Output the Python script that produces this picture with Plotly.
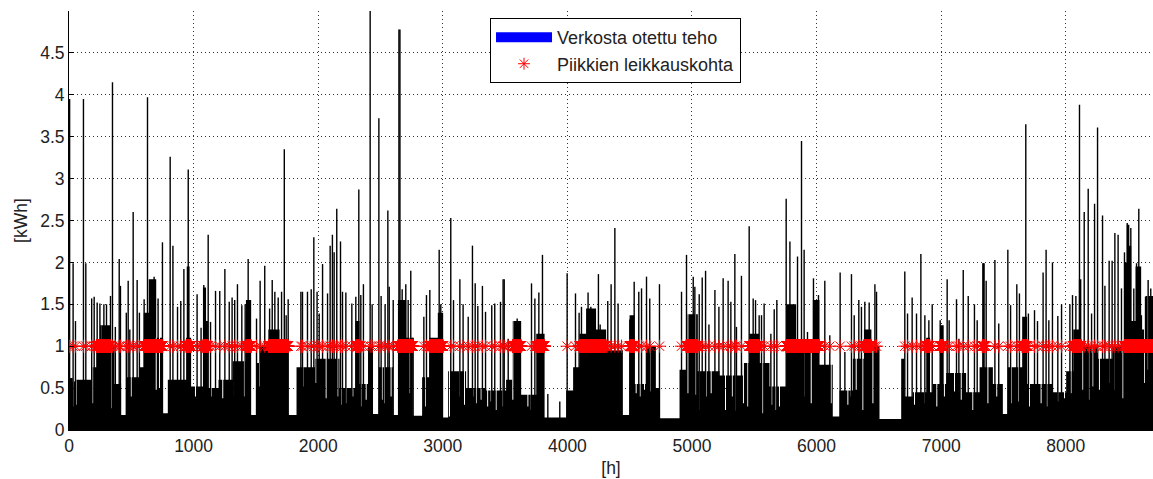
import numpy as np
import plotly.graph_objects as go

# Hourly grid draw over one year (h); the base load is stored as step segments
YEAR_END = 8760
CUT_LEVEL = 1.0  # peak cut limit, kWh

# Base load: each segment starts at seg_start and holds seg_kwh until the next start
seg_start = [0, 30, 60, 180, 220, 260, 330, 365, 418, 459, 566, 600, 640, 700, 753, 793,
             940, 945, 968, 980, 1075, 1100, 1115, 1200, 1315, 1420, 1462, 1502, 1530, 1600,
             1690, 1760, 1826, 1973, 2171, 2300, 2332, 2400, 2440, 2486, 2600, 2640, 2706,
             2760, 2834, 2893, 2960, 3003, 3043, 3187, 3348, 3508, 3560, 3629, 3750, 3817,
             3990, 4046, 4097, 4150, 4230, 4311, 4445, 4499, 4538, 4630, 4710, 4740, 4900,
             4953, 5047, 5221, 5408, 5460, 5540, 5622, 5756, 5836, 5970, 6023, 6130, 6184,
             6291, 6380, 6440, 6505, 6679, 6706, 6773, 6880, 6910, 6933, 6990, 7020, 7040,
             7200, 7308, 7330, 7350, 7415, 7495, 7535, 7650, 7690, 7896, 8003, 8060, 8105,
             8125, 8260, 8378, 8470, 8490, 8510, 8525, 8560, 8605, 8640]
seg_kwh = [0.62, 0.58, 0.60, 0.75, 1.05, 1.25, 1.00, 0.55, 0.18, 0.63, 0.75, 1.40, 1.80, 1.10,
           0.20, 0.60, 1.10, 1.95, 1.10, 0.52, 1.70, 1.30, 0.50, 0.60, 0.82, 1.55, 0.18, 0.80,
           1.00, 1.20, 1.05, 0.18, 0.75, 0.85, 0.50, 1.30, 0.55, 1.00, 0.19, 0.75, 0.18, 1.55,
           1.10, 0.17, 0.63, 1.10, 1.40, 0.15, 0.70, 0.50, 0.47, 0.60, 1.30, 0.42, 1.15, 0.15,
           0.47, 0.75, 1.15, 1.45, 1.20, 0.95, 0.18, 1.37, 0.55, 1.00, 0.50, 0.14, 0.72, 1.38,
           0.70, 0.65, 0.80, 1.15, 0.80, 0.52, 1.50, 1.05, 1.55, 0.78, 0.16, 0.47, 0.85, 1.20,
           1.00, 0.13, 0.85, 0.40, 0.45, 1.10, 0.45, 0.55, 1.25, 0.55, 0.68, 0.45, 0.75, 1.99,
           0.75, 0.55, 0.19, 0.75, 1.35, 0.55, 0.45, 0.70, 1.20, 1.80, 1.00, 0.85, 1.00, 2.00,
           2.45, 2.20, 1.30, 1.95, 1.20, 1.60]

# Single low hours inside the base load
dip_hour = [36, 57, 191, 338, 499, 700, 726, 1015, 1141, 1234, 1328, 1408, 1529, 1877, 1983,
            2064, 2157, 2184, 2224, 2278, 2345, 2385, 2513, 2532, 2585, 2738, 2861, 3054, 3134,
            3174, 3241, 3268, 3308, 3360, 3388, 3428, 3482, 3562, 3683, 3710, 4552, 4584, 4619,
            4664, 4967, 5029, 5060, 5114, 5154, 5269, 5323, 5354, 5413, 5448, 5568, 5640, 5675,
            5702, 5903, 5957, 6117, 6251, 6278, 6318, 6371, 6452, 6786, 6866, 6965, 7026, 7107,
            7161, 7254, 7375, 7446, 7562, 7623, 7709, 7749, 7802, 7848, 7936, 7990, 8043, 8137,
            8185, 8217, 8270, 8351, 8391, 8458, 8632, 8659]
dip_kwh = [0.28, 0.30, 0.32, 0.26, 0.40, 0.48, 0.50, 0.40, 0.40, 0.38, 0.40, 0.40, 0.52, 0.52,
           0.56, 0.38, 0.40, 0.30, 0.32, 0.40, 0.28, 0.36, 0.36, 0.32, 0.40, 0.44, 0.28, 0.16,
           0.40, 0.30, 0.40, 0.32, 0.36, 0.28, 0.34, 0.24, 0.28, 0.36, 0.28, 0.24, 0.44, 0.40,
           0.48, 0.46, 0.44, 0.42, 0.24, 0.40, 0.44, 0.24, 0.40, 0.23, 0.32, 0.28, 0.20, 0.30,
           0.24, 0.28, 0.40, 0.32, 0.32, 0.30, 0.40, 0.48, 0.24, 0.32, 0.30, 0.32, 0.28, 0.40,
           0.46, 0.36, 0.24, 0.32, 0.40, 0.32, 0.34, 0.28, 0.40, 0.32, 0.28, 0.34, 0.38, 0.44,
           0.48, 0.36, 0.52, 0.48, 0.56, 0.48, 0.38, 0.56, 0.72]

# Single-hour consumption peaks
peak_hour = [5, 33, 52, 116, 135, 182, 202, 226, 248, 255, 280, 301, 333, 349, 372, 403, 413,
             460, 475, 488, 515, 547, 565, 603, 630, 683, 715, 750, 812, 834, 871, 897, 922,
             957, 1028, 1060, 1082, 1117, 1136, 1176, 1210, 1251, 1286, 1309, 1330, 1352, 1387,
             1414, 1438, 1505, 1534, 1571, 1610, 1631, 1652, 1679, 1706, 1728, 1743, 1759,
             1861, 1874, 1914, 1944, 1965, 1991, 2008, 2035, 2075, 2096, 2114, 2128, 2149, 2179,
             2195, 2222, 2270, 2302, 2326, 2342, 2363, 2417, 2433, 2487, 2505, 2537, 2559, 2570,
             2602, 2648, 2656, 2674, 2703, 2722, 2743, 2762, 2848, 2869, 2896, 2971, 2984, 3064,
             3086, 3137, 3163, 3204, 3238, 3260, 3281, 3318, 3343, 3393, 3417, 3463, 3484, 3493,
             3525, 3597, 3712, 3739, 3771, 3800, 3843, 3939, 3998, 4065, 4094, 4113, 4166, 4188,
             4209, 4249, 4263, 4287, 4324, 4351, 4381, 4407, 4434, 4501, 4536, 4573, 4595, 4635,
             4661, 4696, 4739, 4916, 4956, 5010, 5023, 5058, 5082, 5109, 5136, 5184, 5216, 5250,
             5290, 5312, 5344, 5357, 5397, 5459, 5491, 5510, 5539, 5558, 5579, 5633, 5660, 5681,
             5756, 5786, 5807, 5847, 5879, 5900, 5927, 5975, 6015, 6066, 6106, 6189, 6227, 6280,
             6302, 6339, 6360, 6387, 6422, 6468, 6481, 6708, 6730, 6767, 6802, 6837, 6869, 6901,
             6928, 6992, 7048, 7064, 7123, 7142, 7177, 7217, 7267, 7289, 7337, 7361, 7431, 7462,
             7535, 7557, 7607, 7628, 7679, 7700, 7749, 7773, 7818, 7842, 7864, 7893, 7936, 7966,
             8033, 8054, 8081, 8110, 8148, 8180, 8207, 8231, 8255, 8295, 8314, 8348, 8372, 8394,
             8420, 8447, 8471, 8493, 8522, 8546, 8568, 8586, 8607, 8640, 8661, 8682]
peak_kwh = [3.95, 1.99, 1.30, 3.95, 1.99, 1.57, 1.59, 1.52, 1.51, 1.25, 1.50, 1.50, 1.60, 4.15,
            1.23, 2.04, 1.72, 1.40, 1.78, 1.20, 2.60, 1.79, 1.40, 1.56, 3.97, 1.83, 1.57, 2.24,
            3.26, 2.20, 1.47, 1.54, 1.92, 3.11, 1.62, 1.22, 1.73, 2.33, 1.29, 1.66, 1.66, 1.92,
            1.53, 1.58, 1.55, 1.74, 1.49, 1.50, 2.04, 1.33, 1.78, 1.96, 1.45, 1.79, 1.65, 1.58,
            1.65, 3.35, 1.37, 1.56, 1.65, 1.65, 1.65, 1.68, 2.30, 1.65, 1.39, 1.98, 1.63, 2.20,
            2.33, 2.12, 2.64, 2.25, 1.65, 1.64, 1.51, 1.59, 2.87, 1.61, 1.74, 5.00, 1.50, 3.72,
            1.60, 1.50, 2.62, 1.71, 1.55, 4.78, 4.78, 1.68, 1.74, 1.55, 1.90, 1.10, 1.35, 1.61,
            1.67, 2.15, 1.50, 2.53, 1.55, 1.80, 1.50, 1.35, 2.20, 1.75, 1.48, 1.72, 1.41, 1.49,
            1.51, 1.53, 1.80, 1.80, 1.09, 1.33, 1.75, 1.57, 1.64, 2.09, 0.43, 0.34, 1.87, 1.63,
            1.40, 1.47, 1.64, 1.47, 1.09, 1.86, 1.26, 1.17, 1.54, 1.74, 2.41, 1.51, 1.02, 1.32,
            1.77, 1.65, 1.69, 1.83, 1.57, 0.93, 1.74, 1.65, 2.09, 1.83, 1.71, 1.62, 1.82, 1.90,
            1.26, 1.67, 1.47, 1.81, 1.78, 1.53, 2.10, 1.23, 1.84, 2.43, 1.57, 1.55, 1.37, 1.37,
            1.51, 1.15, 1.44, 1.55, 2.76, 2.25, 1.35, 2.07, 3.45, 2.15, 1.17, 1.81, 1.61, 1.78,
            1.13, 1.88, 0.93, 1.86, 1.37, 1.55, 1.47, 1.53, 1.52, 1.74, 1.65, 1.89, 1.39, 1.58,
            1.39, 2.10, 1.37, 1.31, 1.50, 1.31, 1.80, 1.31, 1.56, 1.09, 1.91, 1.60, 1.50, 1.31,
            1.99, 1.78, 2.03, 1.27, 2.15, 1.49, 1.74, 1.63, 3.65, 1.39, 1.43, 1.30, 1.88, 2.15,
            1.31, 2.00, 1.36, 1.50, 1.50, 1.61, 1.60, 3.88, 2.60, 2.88, 1.39, 2.70, 3.61, 2.56,
            1.72, 2.02, 2.02, 2.35, 2.33, 1.69, 2.12, 2.47, 2.41, 1.69, 1.99, 2.64, 1.37, 1.59,
            1.79, 1.69]

x_ticks = [0, 1000, 2000, 3000, 4000, 5000, 6000, 7000, 8000]
y_ticks = [0, 0.5, 1, 1.5, 2, 2.5, 3, 3.5, 4, 4.5]

FONT = "Liberation Sans, Arial, Helvetica, sans-serif"
TXT = "#222222"

# ---- base load as a filled step outline, with the single low hours cut into it
seg_end = seg_start[1:] + [YEAR_END]
dips = sorted(zip(dip_hour, dip_kwh))
bx, by = [], []
for s, e, lv in zip(seg_start, seg_end, seg_kwh):
    bx.append(s)
    by.append(lv)
    for dh, dv in dips:
        if s <= dh < e:
            bx += [dh - 4, dh + 4]
            by += [dv, lv]
bx.append(YEAR_END)
by.append(seg_kwh[-1])

# ---- peaks as one-hour vertical bars
px_, py_ = [], []
for h, v in zip(peak_hour, peak_kwh):
    px_ += [h, h, None]
    py_ += [0, v, None]

# ---- cut points: every hour whose load goes over the limit
cut_hours = []
for s, e, lv in zip(seg_start, seg_end, seg_kwh):
    if lv > CUT_LEVEL:
        cut_hours.extend(range(s, e))
cut_hours.extend(h for h, v in zip(peak_hour, peak_kwh) if v > CUT_LEVEL)
cut_hours = sorted(set(cut_hours))

fig = go.Figure()
fig.add_trace(go.Scatter(
    x=bx, y=by, mode="lines", line=dict(shape="hv", width=0, color="black"),
    fill="tozeroy", fillcolor="black", showlegend=False, hoverinfo="skip"))
fig.add_trace(go.Scatter(
    x=px_, y=py_, mode="lines", line=dict(width=1.4, color="#000000"),
    showlegend=False, hoverinfo="skip"))
fig.add_trace(go.Scatter(
    x=cut_hours, y=[CUT_LEVEL] * len(cut_hours), mode="markers",
    marker=dict(symbol="asterisk-open", size=11, color="red",
                line=dict(color="red", width=1)),
    showlegend=False, hoverinfo="skip"))

# legend entries
fig.add_trace(go.Scatter(
    x=[None], y=[None], mode="lines", name="Verkosta otettu teho",
    line=dict(color="#0000ff", width=18), legendgroup="a"))
fig.add_trace(go.Scatter(
    x=[None], y=[None], mode="markers", name="Piikkien leikkauskohta",
    marker=dict(symbol="asterisk-open", size=10, color="red",
                line=dict(color="red", width=1)), legendgroup="b"))

axis_common = dict(
    showline=True, linecolor="black", linewidth=1, mirror=False,
    ticks="inside", ticklen=5, tickcolor="black",
    showgrid=True, gridcolor="#333333", gridwidth=1, griddash="1px,3px",
    zeroline=False, tickfont=dict(family=FONT, size=17.5, color=TXT),
)

fig.update_layout(
    width=1153, height=479,
    margin=dict(l=69, r=0, t=11, b=49),
    paper_bgcolor="white", plot_bgcolor="white",
    font=dict(family=FONT, size=17.5, color=TXT),
    xaxis=dict(range=[0, 8700], tickvals=x_ticks, **axis_common,
               title=dict(text="[h]", font=dict(family=FONT, size=17.5, color=TXT), standoff=6)),
    yaxis=dict(range=[0, 5], tickvals=y_ticks, **axis_common,
               title=dict(text="[kWh]", font=dict(family=FONT, size=17.5, color=TXT), standoff=8)),
    legend=dict(
        x=0.3884, y=0.983, xanchor="left", yanchor="top",
        bgcolor="white", bordercolor="black", borderwidth=1,
        font=dict(family=FONT, size=18, color=TXT),
        itemwidth=56, tracegroupgap=0,
    ),
    showlegend=True,
)

fig.write_html("out.html")
